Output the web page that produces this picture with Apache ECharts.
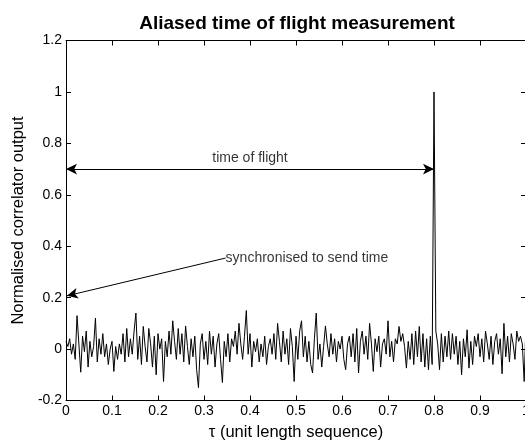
<!DOCTYPE html>
<html>
<head>
<meta charset="utf-8">
<script src="https://cdn.jsdelivr.net/npm/echarts@6/dist/echarts.min.js"></script>
<style>html,body{margin:0;padding:0;background:#fff;}#c{width:525px;height:443px;}</style>
</head>
<body>
<div id="c"></div>
<script>
const titleText = 'Aliased time of flight measurement';
const xName = 'τ (unit length sequence)';
const yName = 'Normalised correlator output';
const tauStep = 0.004;
const correlator = [
0.03,0.01,0.04,-0.02,0.02,-0.04,0.13,0.02,-0.09,0.05,
-0.01,0.07,-0.07,0.03,-0.03,0.01,0.12,-0.05,0.04,-0.02,
0.06,-0.03,0.02,-0.06,0.00,0.03,-0.087,0.01,-0.04,0.02,
-0.02,0.06,-0.05,0.08,-0.03,0.04,-0.02,0.07,0.14,-0.04,
0.05,-0.06,0.088,0.01,-0.05,0.08,0.02,-0.07,0.05,-0.10,
0.06,0.00,0.04,-0.126,0.03,-0.03,0.07,-0.02,0.11,0.03,
-0.04,0.08,-0.02,0.06,-0.05,0.09,0.01,-0.06,0.04,-0.03,
0.05,-0.08,-0.15,0.02,0.06,-0.04,0.03,-0.06,0.07,-0.02,
0.05,-0.07,0.02,0.06,-0.04,-0.13,0.03,-0.03,0.06,-0.05,
0.04,0.01,0.07,-0.02,0.10,0.02,-0.04,0.05,0.15,-0.02,
0.06,-0.07,0.03,-0.01,0.04,-0.05,0.02,-0.03,0.05,-0.06,
0.01,0.04,-0.02,0.06,-0.04,0.10,0.03,-0.05,0.07,-0.02,
0.04,-0.06,0.08,0.01,-0.126,0.05,-0.04,0.07,0.11,-0.03,
0.05,-0.05,0.03,-0.06,-0.093,0.04,0.14,-0.04,0.02,-0.07,
0.01,0.09,0.02,-0.03,0.06,-0.02,0.04,-0.05,0.03,0.00,
0.05,-0.04,-0.08,0.02,0.05,-0.03,0.06,-0.05,0.08,-0.093,
0.03,0.07,-0.02,0.05,-0.04,0.10,0.02,-0.087,0.04,-0.01,
0.05,-0.07,0.02,0.04,-0.02,0.11,-0.03,0.03,-0.05,0.04,
0.02,0.088,0.03,0.06,0.01,-0.074,0.03,-0.04,0.06,-0.06,
0.07,-0.03,0.088,-0.05,0.06,-0.07,0.04,-0.08,0.05,-0.06,
1.0,0.07,0.02,-0.08,0.06,-0.05,0.05,-0.03,0.07,-0.04,
0.06,-0.02,0.05,-0.06,0.03,-0.10,0.04,-0.03,0.075,-0.074,
0.03,-0.06,0.05,0.01,0.06,-0.03,0.04,-0.05,0.07,0.02,
-0.04,0.05,-0.06,0.03,0.06,-0.02,0.04,-0.096,0.10,-0.03,
0.05,-0.05,0.06,0.02,-0.04,0.07,0.03,0.05,0.02,-0.126,
0.10
];
const tofArrow = [[0, 0.7], [0.8, 0.7]];
const tofLabel = 'time of flight';
const syncArrow = [[0.347, 0.354], [0.002, 0.207]];
const syncLabel = 'synchronised to send time';

const seriesData = correlator.map((v, i) => [+(i * tauStep).toFixed(3), v]);
const font = 'Liberation Sans, Arial, sans-serif';
const chart = echarts.init(document.getElementById('c'), null, {renderer: 'canvas'});
const tickFmt = v => String(+v.toFixed(1));
chart.setOption({
  animation: false,
  backgroundColor: '#fff',
  title: {text: titleText, left: 292, top: 9, textAlign: 'center',
    textStyle: {fontFamily: font, fontWeight: 'bold', fontSize: 19, color: '#000'}},
  grid: {left: 66, top: 40.5, width: 460, height: 360, outerBoundsMode: 'none', containLabel: false},
  xAxis: [{
    type: 'value', min: 0, max: 1, interval: 0.1, position: 'bottom',
    name: xName, nameLocation: 'middle', nameGap: 23,
    nameTextStyle: {fontFamily: font, fontSize: 16.5, color: '#000'},
    axisLine: {onZero: false, lineStyle: {color: '#000', width: 1}},
    axisTick: {inside: true, length: 5, lineStyle: {color: '#000'}},
    axisLabel: {fontFamily: font, fontSize: 14, color: '#000', margin: 4, formatter: tickFmt},
    splitLine: {show: false}
  }, {
    type: 'value', min: 0, max: 1, interval: 0.1, position: 'top',
    axisLine: {onZero: false, lineStyle: {color: '#000', width: 1}},
    axisTick: {inside: true, length: 5, lineStyle: {color: '#000'}},
    axisLabel: {show: false}, splitLine: {show: false}
  }],
  yAxis: [{
    type: 'value', min: -0.2, max: 1.2, interval: 0.2, position: 'left',
    name: yName, nameLocation: 'middle', nameGap: 37,
    nameTextStyle: {fontFamily: font, fontSize: 16.5, color: '#000'},
    axisLine: {onZero: false, lineStyle: {color: '#000', width: 1}},
    axisTick: {inside: true, length: 5, lineStyle: {color: '#000'}},
    axisLabel: {fontFamily: font, fontSize: 14, color: '#000', margin: 4, formatter: tickFmt},
    splitLine: {show: false}
  }, {
    type: 'value', min: -0.2, max: 1.2, interval: 0.2, position: 'right',
    axisLine: {onZero: false, lineStyle: {color: '#000', width: 1}},
    axisTick: {inside: true, length: 5, lineStyle: {color: '#000'}},
    axisLabel: {show: false}, splitLine: {show: false}
  }],
  series: [{
    type: 'line', data: seriesData, showSymbol: false, symbol: 'none',
    lineStyle: {color: '#000', width: 1}, silent: true
  }, {
    type: 'line', data: [], silent: true,
    markLine: {
      silent: true, symbol: ['arrow', 'arrow'], symbolSize: [8, 11],
      lineStyle: {color: '#000', width: 1, type: 'solid'},
      label: {show: false},
      data: [
        [{coord: tofArrow[0]}, {coord: tofArrow[1]}],
        [{coord: syncArrow[0], symbol: 'none'}, {coord: syncArrow[1], symbol: 'arrow'}]
      ]
    }
  }, {
    type: 'scatter', symbolSize: 0, silent: true,
    data: [[(tofArrow[0][0] + tofArrow[1][0]) / 2, tofArrow[0][1]]],
    label: {show: true, position: 'top', distance: 4, formatter: tofLabel,
      fontFamily: font, fontSize: 14, color: '#000'}
  }, {
    type: 'scatter', symbolSize: 0, silent: true,
    data: [syncArrow[0]],
    label: {show: true, position: 'right', distance: 0, formatter: syncLabel,
      fontFamily: font, fontSize: 14, color: '#000'}
  }]
});
</script>
</body>
</html>
